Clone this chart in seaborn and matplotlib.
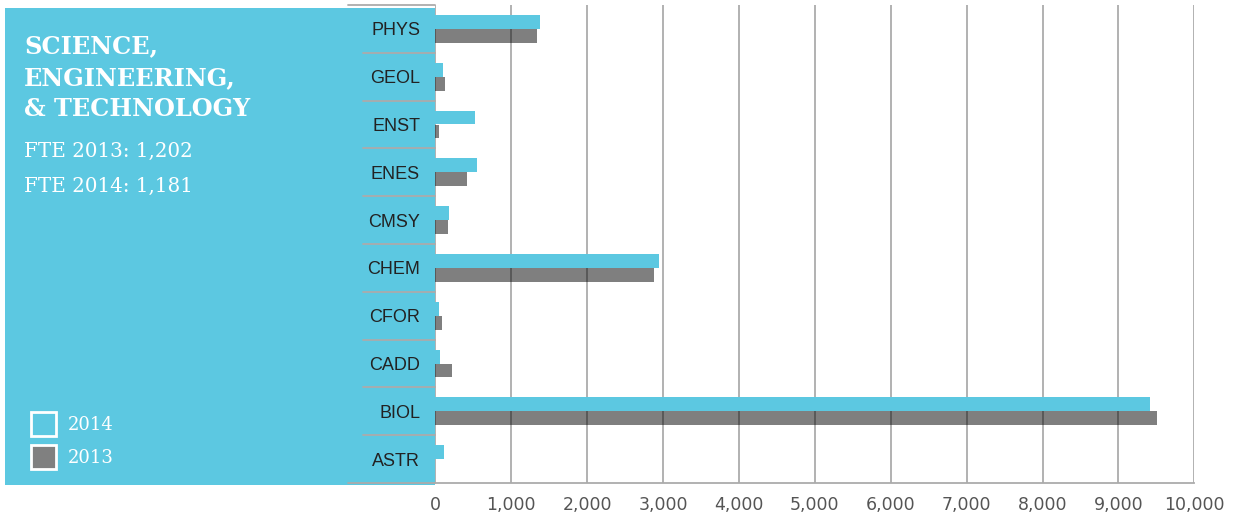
import matplotlib
matplotlib.use("Agg")
import matplotlib.pyplot as plt
from matplotlib.patches import Rectangle, Patch
import seaborn as sns
import pandas as pd

# ---- data ----
departments = ["PHYS", "GEOL", "ENST", "ENES", "CMSY", "CHEM", "CFOR", "CADD", "BIOL", "ASTR"]
fte_2014 = [1374, 101, 527, 545, 185, 2945, 49, 66, 9413, 119]
fte_2013 = [1342, 132, 49, 413, 167, 2878, 84, 215, 9509, 0]
years = ["2014", "2013"]
x_ticks = [0, 1000, 2000, 3000, 4000, 5000, 6000, 7000, 8000, 9000, 10000]
x_tick_labels = ["0", "1,000", "2,000", "3,000", "4,000", "5,000", "6,000", "7,000", "8,000", "9,000", "10,000"]
title_lines = ["SCIENCE,", "ENGINEERING,", "& TECHNOLOGY"]
fte_lines = ["FTE 2013: 1,202", "FTE 2014: 1,181"]

df = pd.DataFrame({
    "dept": departments * 2,
    "fte": fte_2014 + fte_2013,
    "year": ["2014"] * len(departments) + ["2013"] * len(departments),
})

CYAN = "#5CC8E1"
GRAY = "#808080"
GRID = "#ababab"

sns.set_style("white")
plt.rcParams["font.family"] = ["DejaVu Sans"]

W, H = 1233, 518
fig = plt.figure(figsize=(W / 100, H / 100), dpi=100)

# axes placement
x0, x1 = 435.3, 1194.3
y_top, y_bot = 5, 483
ax = fig.add_axes([x0 / W, 1 - y_bot / H, (x1 - x0) / W, (y_bot - y_top) / H])
ax.set_zorder(2)

# left panel
fig.patches.append(Rectangle((5 / W, 1 - 485 / H), (435 - 5) / W, (485 - 8) / H,
                             transform=fig.transFigure, facecolor=CYAN, edgecolor="none", zorder=0))

sns.barplot(data=df, y="dept", x="fte", hue="year", hue_order=years,
            order=departments, palette={"2014": CYAN, "2013": GRAY},
            orient="h", width=0.58, ax=ax, legend=False, saturation=1)

# semi-transparent gray bars so gridlines show through
for bar in ax.containers[1]:
    bar.set_facecolor((0, 0, 0, 0.5))
    bar.set_edgecolor("none")
for bar in ax.containers[0]:
    bar.set_edgecolor("none")

ax.set_xlim(0, 10000)
ax.set_ylim(len(departments) - 0.5, -0.5)
ax.set_xlabel("")
ax.set_ylabel("")
ax.set_axisbelow(True)
ax.grid(axis="x", color=GRID, linewidth=1.3)
ax.grid(axis="y", visible=False)
for s in ["top", "right", "left"]:
    ax.spines[s].set_visible(False)
ax.spines["bottom"].set_color(GRID)
ax.spines["bottom"].set_linewidth(1.3)

ax.set_xticks(x_ticks)
ax.set_xticklabels(x_tick_labels)
ax.tick_params(axis="x", length=4.5, width=1.3, color=GRID, pad=5,
               labelsize=12.5, labelcolor="#555555")
ax.tick_params(axis="y", length=0, pad=11, labelsize=13, labelcolor="#222222")
for lab in ax.get_yticklabels():
    lab.set_fontfamily(["Liberation Sans", "DejaVu Sans"])

# label-column separator lines
ytr = ax.get_yaxis_transform()
sep_x0 = (363 - x0) / (x1 - x0)
ext_x0 = (348 - x0) / (x1 - x0)
for i in range(len(departments) - 1):
    ax.plot([sep_x0, 0], [i + 0.5, i + 0.5], color=GRID, lw=1.3, transform=ytr, clip_on=False, zorder=5)
ax.plot([ext_x0, 0], [-0.5, -0.5], color=GRID, lw=1.3, transform=ytr, clip_on=False, zorder=5)
ax.plot([ext_x0, 0], [len(departments) - 0.5] * 2, color=GRID, lw=1.3, transform=ytr, clip_on=False, zorder=5)

# title text
for line, yb in zip(title_lines, [53, 85, 116]):
    fig.text(24 / W, 1 - yb / H, line, color="white", fontsize=17.3, fontweight="bold",
             family="DejaVu Serif", va="baseline", ha="left")
for line, yb in zip(fte_lines, [157, 192]):
    fig.text(24 / W, 1 - yb / H, line, color="white", fontsize=14.3,
             family="DejaVu Serif", va="baseline", ha="left")

# legend
handles = [Patch(facecolor="none", edgecolor="white", linewidth=2),
           Patch(facecolor=GRAY, edgecolor="white", linewidth=2)]
fig.legend(handles, years, loc="upper left", bbox_to_anchor=(31 / W, 1 - 412 / H),
           frameon=False, borderpad=0, borderaxespad=0, handlelength=1.4, handleheight=1.7,
           handletextpad=0.65, labelspacing=0.45, labelcolor="white",
           prop={"family": "DejaVu Serif", "size": 13})

fig.savefig("out.png", dpi=100)
